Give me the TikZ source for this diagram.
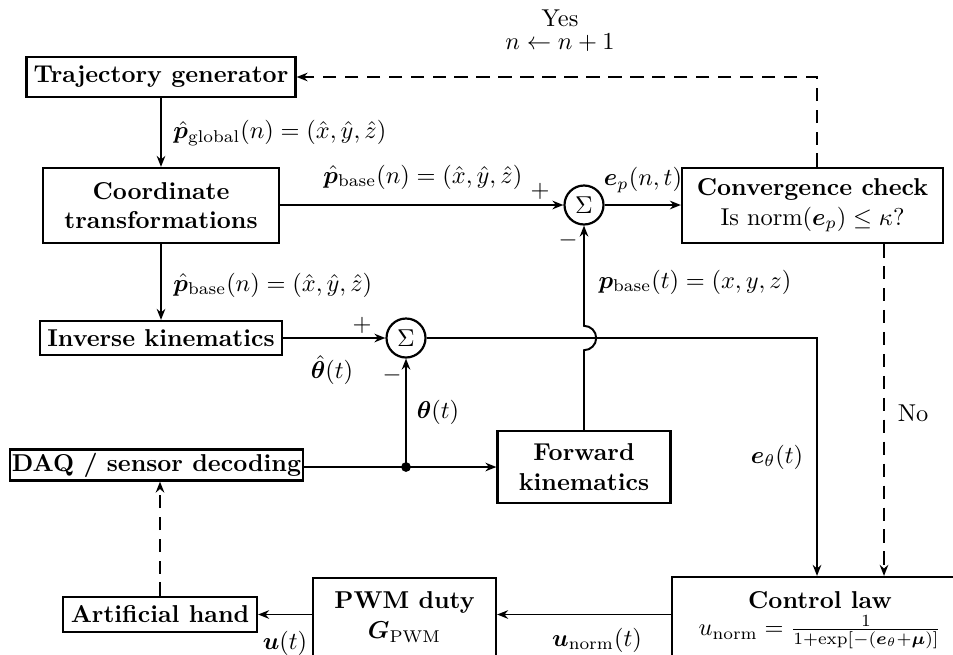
\documentclass[tikz,border=0pt]{standalone}
\usepackage{amsmath,bm}
\usetikzlibrary{arrows.meta}
\newcommand\pxu{0.41pt}
\begin{document}
\begin{tikzpicture}[x=0.41pt,y=-0.41pt,
  blk/.style={draw, line width=0.9pt, inner sep=0pt, font=\bfseries, align=center},
  sumnode/.style={draw, circle, line width=0.9pt, minimum size=39*\pxu, inner sep=0pt},
  wire/.style={line width=0.8pt},
  link/.style={wire, -{Stealth[length=4.5pt,width=3.5pt]}},
  dlink/.style={link, dash pattern=on 5.5pt off 3.5pt},
  lbl/.style={inner sep=0pt}]
\useasboundingbox (0,0) rectangle (953,654);
\clip (0,0) rectangle (953,654);

% blocks
\node[blk, minimum width=269*\pxu, minimum height=40*\pxu] (traj) at (161,77) {Trajectory generator};
\node[blk, minimum width=236*\pxu, minimum height=75*\pxu] (coord) at (161,205.5) {Coordinate\\transformations};
\node[blk, minimum width=242*\pxu, minimum height=34*\pxu] (inv) at (161,338) {Inverse kinematics};
\node[blk, minimum width=293*\pxu, minimum height=31*\pxu] (daq) at (156.5,465) {DAQ / sensor decoding};
\node[blk, minimum width=194*\pxu, minimum height=35*\pxu] (hand) at (160,614.5) {Artificial hand};
\node[blk, minimum width=183*\pxu, minimum height=104*\pxu] (pwm) at (404.5,630) {};
\node[lbl, font=\bfseries] (pwmtitle) at (404.5,602) {PWM duty};
\node[lbl] (pwmgain) at (404.5,632) {$\bm G_{\text{PWM}}$};
\node[blk, minimum width=296*\pxu, minimum height=104*\pxu] (ctrl) at (820,629) {};
\node[lbl, font=\bfseries] (ctrltitle) at (820,600) {Control law};
\node[lbl] (ctrlfun) at (820,632) {$u_{\text{norm}}=\frac{1}{1+\exp[-(\bm e_\theta+\bm\mu)]}$};
\node[blk, minimum width=261*\pxu, minimum height=75*\pxu] (conv) at (812.5,205.5) {Convergence check\\\mdseries Is norm$(\bm e_p)\le\kappa$?};
\node[blk, minimum width=173*\pxu, minimum height=72*\pxu] (fwd) at (584,467) {Forward\\kinematics};
\node[sumnode] (s1) at (584,205) {$\Sigma$};
\node[sumnode] (s2) at (406,338) {$\Sigma$};

% helper points
\coordinate (tap) at (406,467);
\coordinate (ecorner) at (817,338);
\coordinate (ycorner) at (817,77);
\coordinate (nox) at (884,300);
\coordinate (hop) at (584,350.2);

% connectors
\draw[link] (traj.south) -- (coord.north);
\draw[link] (coord.east |- s1) -- (s1.west);
\draw[link] (s1.east) -- (conv.west |- s1);
\draw[dlink] (conv.north -| ycorner) -- (ycorner) -- (traj.east);
\draw[link] (coord.south) -- (inv.north);
\draw[link] (inv.east) -- (s2.west);
\draw[link] (s2.east) -- (ecorner) -- (ecorner |- ctrl.north);
\draw[link] (daq.east |- fwd) -- (fwd.west);
\fill (tap) circle[radius=2pt];
\draw[link] (tap) -- (s2.south);
\draw[link] (fwd.north) -- (hop) arc[start angle=-90, end angle=90, radius=5pt] -- (s1.south);
\draw[dlink] (conv.south -| nox) -- (nox |- ctrl.north);
\draw[link] (ctrl.west |- hand) -- (pwm.east |- hand);
\draw[link] (pwm.west |- hand) -- (hand.east);
\draw[dlink] (hand.north) -- (hand.north |- daq.south);

% labels
\node[lbl] (yes) at (560,18) {Yes};
\node[lbl] (incr) at (560,43) {$n\leftarrow n+1$};
\node[lbl, anchor=west] (pglob) at (173,133) {$\hat{\bm p}_{\text{global}}(n)=(\hat x,\hat y,\hat z)$};
\node[lbl, anchor=west] (pbaseA) at (323,177) {$\hat{\bm p}_{\text{base}}(n)=(\hat x,\hat y,\hat z)$};
\node[lbl] (plusA) at (540,191) {$+$};
\node[lbl] (ep) at (643,180) {$\bm e_p(n,t)$};
\node[lbl] (minusA) at (568,240) {$-$};
\node[lbl, anchor=west] (pbaset) at (598,282) {$\bm p_{\text{base}}(t)=(x,y,z)$};
\node[lbl, anchor=west] (pbaseB) at (173,285) {$\hat{\bm p}_{\text{base}}(n)=(\hat x,\hat y,\hat z)$};
\node[lbl] (plusB) at (362,325) {$+$};
\node[lbl] (thhat) at (332,370) {$\hat{\bm\theta}(t)$};
\node[lbl] (minusB) at (392,375) {$-$};
\node[lbl] (th) at (438,412) {$\bm\theta(t)$};
\node[lbl] (eth) at (777,457) {$\bm e_\theta(t)$};
\node[lbl] (no) at (913,413) {No};
\node[lbl] (ut) at (285,643) {$\bm u(t)$};
\node[lbl] (unorm) at (597,640) {$\bm u_{\text{norm}}(t)$};
\end{tikzpicture}
\end{document}
